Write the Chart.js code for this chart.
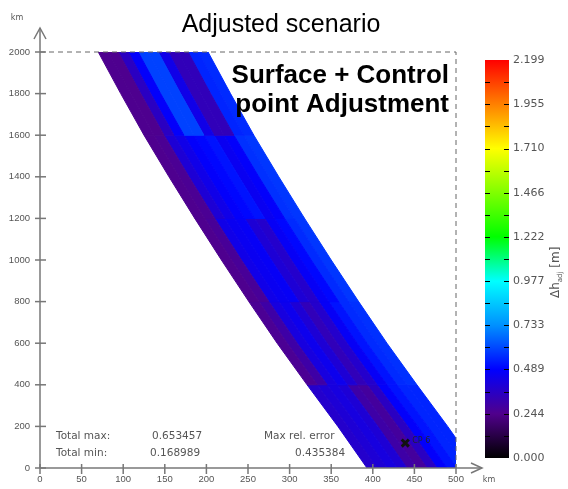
<!DOCTYPE html>
<html lang="en">
<head>
<meta charset="UTF-8">
<title>Adjusted scenario</title>
<script src="https://cdn.jsdelivr.net/npm/chart.js"></script>
<style>
  html, body { margin: 0; padding: 0; background: #fff; }
  #wrap { position: relative; width: 568px; height: 489px; }
  #mainChart { position: absolute; left: 0; top: 0; }
  #barChart { position: absolute; left: 470px; top: 0; }
</style>
</head>
<body>
<div id="wrap">
  <canvas id="mainChart" width="568" height="489"></canvas>
  <canvas id="barChart" width="98" height="489"></canvas>
</div>
<script>
// swath left edge: km north and km east of the edge at each level
const edgeY = [2000, 1800, 1600, 1400, 1200, 1000, 800, 600, 400, 200, 0];
const edgeX = [70, 97, 125, 155, 186, 218, 251, 285, 321, 358, 393];
// cross-track strip borders, measured east from the left edge (km)
const stripOffsets = [0, 12, 24, 36, 48, 60, 72, 84, 96, 108, 120, 132];
// dh_adj per cell [m]; one row per 400 km of track, north to south
const dhRow1 = [0.25, 0.25, 0.36, 0.48, 0.60, 0.60, 0.44, 0.34, 0.34, 0.55, 0.56];
const dhRow2 = [0.25, 0.26, 0.40, 0.44, 0.48, 0.50, 0.52, 0.46, 0.48, 0.57, 0.58];
const dhRow3 = [0.25, 0.27, 0.44, 0.46, 0.47, 0.40, 0.38, 0.47, 0.50, 0.56, 0.58];
const dhRow4 = [0.26, 0.30, 0.42, 0.45, 0.40, 0.34, 0.38, 0.47, 0.52, 0.56, 0.57];
const dhRow5 = [0.38, 0.40, 0.42, 0.40, 0.30, 0.28, 0.36, 0.48, 0.52, 0.55, 0.55];
const dhRows = [dhRow1, dhRow2, dhRow3, dhRow4, dhRow5];

const controlPoint = { x: 439, y: 120 };
const controlLabel = 'CP 6';

const statNames = ['Total max:', 'Total min:', 'Max rel. error'];
const statValues = ['0.653457', '0.168989', '0.435384'];

// colour bar ticks [m] and the colour at each of them
const cbTicks = [0.000, 0.244, 0.489, 0.733, 0.977, 1.222, 1.466, 1.710, 1.955, 2.199];
const cbColors = ['#000000', '#50008c', '#0000ff', '#0090ff', '#00ffff',
                  '#00ff00', '#80ff00', '#ffff00', '#ff8000', '#ff0000'];

Chart.defaults.font.family = '"Liberation Sans", Arial, sans-serif';

function hexRgb(h) {
  return [1, 3, 5].map(i => parseInt(h.slice(i, i + 2), 16));
}

// value -> colour along the colour bar
function dhColor(v) {
  let i = 0;
  while (i < cbTicks.length - 2 && v > cbTicks[i + 1]) i++;
  const t = Math.max(0, Math.min(1, (v - cbTicks[i]) / (cbTicks[i + 1] - cbTicks[i])));
  const a = hexRgb(cbColors[i]), b = hexRgb(cbColors[i + 1]);
  const c = a.map((x, k) => Math.round(x + (b[k] - x) * t));
  return `rgb(${c[0]},${c[1]},${c[2]})`;
}

const cellSets = [];
dhRows.forEach((row, r) => {
  const k = [2 * r, 2 * r + 1, 2 * r + 2];
  row.forEach((v, s) => {
    const o1 = stripOffsets[s], o2 = stripOffsets[s + 1];
    const col = dhColor(v);
    const right = k.map(j => ({ x: edgeX[j] + o2, y: edgeY[j] }));
    const left = k.slice().reverse().map(j => ({ x: edgeX[j] + o1, y: edgeY[j] }));
    cellSets.push({
      data: [{ x: edgeX[k[0]] + o1, y: edgeY[k[0]] }].concat(right, left),
      fill: 'shape',
      backgroundColor: col,
      borderColor: col,
      borderWidth: 1,
      pointRadius: 0,
      tension: 0,
      order: 1
    });
  });
});

function seg(ctx, pts) {
  ctx.beginPath();
  ctx.moveTo(pts[0], pts[1]);
  for (let i = 2; i < pts.length; i += 2) ctx.lineTo(pts[i], pts[i + 1]);
  ctx.stroke();
}

const frame = {
  id: 'frame',
  beforeDatasetsDraw(chart) {
    const { ctx } = chart;
    ctx.save();
    ctx.font = '10.5px "DejaVu Sans", sans-serif';
    ctx.fillStyle = '#555';
    ctx.textBaseline = 'middle';
    ctx.fillText(statNames[0], 56, 436);
    ctx.fillText(statValues[0], 152, 436);
    ctx.fillText(statNames[1], 56, 453);
    ctx.fillText(statValues[1], 150, 453);
    ctx.fillText(statNames[2], 264, 436);
    ctx.fillText(statValues[2], 295, 453);
    ctx.restore();
  },
  afterDraw(chart) {
    const { ctx, chartArea: a } = chart;
    const xs = chart.scales.x, ys = chart.scales.y;
    const x0 = xs.getPixelForValue(0), y0 = ys.getPixelForValue(0);
    ctx.save();
    // dashed frame
    ctx.strokeStyle = '#666';
    ctx.lineWidth = 1;
    ctx.setLineDash([5, 4]);
    seg(ctx, [x0, a.top, a.right, a.top, a.right, y0]);
    ctx.setLineDash([]);
    // axes with arrows
    ctx.strokeStyle = '#777';
    ctx.lineWidth = 1.5;
    seg(ctx, [x0, y0, x0, 28]);
    seg(ctx, [x0 - 6, 39, x0, 28, x0 + 6, 39]);
    seg(ctx, [x0, y0, 482, y0]);
    seg(ctx, [471, y0 - 5, 482, y0, 471, y0 + 5]);
    ys.ticks.forEach(t => { const p = ys.getPixelForValue(t.value); seg(ctx, [x0 - 5, p, x0 + 6, p]); });
    xs.ticks.forEach(t => { const p = xs.getPixelForValue(t.value); seg(ctx, [p, y0 - 4, p, y0 + 6]); });
    // units
    ctx.fillStyle = '#555';
    ctx.font = '8px "DejaVu Sans", sans-serif';
    ctx.textAlign = 'center';
    ctx.textBaseline = 'middle';
    ctx.fillText('km', 17, 18);
    ctx.fillText('km', 489, 480);
    // control point label
    const cx = xs.getPixelForValue(controlPoint.x), cy = ys.getPixelForValue(controlPoint.y);
    ctx.fillStyle = '#223';
    ctx.textAlign = 'left';
    ctx.font = '8px "DejaVu Sans", sans-serif';
    ctx.fillText(controlLabel, cx + 7, cy - 2);
    // titles
    ctx.fillStyle = '#000';
    ctx.font = '25px "Liberation Sans", Arial, sans-serif';
    ctx.textAlign = 'center';
    ctx.textBaseline = 'alphabetic';
    ctx.fillText('Adjusted scenario', 281, 32);
    ctx.font = 'bold 26px "Liberation Sans", Arial, sans-serif';
    ctx.textAlign = 'right';
    ctx.fillText('Surface + Control', 449, 83);
    ctx.fillText('point Adjustment', 449, 112);
    ctx.restore();
  }
};

new Chart(document.getElementById('mainChart'), {
  type: 'line',
  data: {
    datasets: [{
      data: [controlPoint],
      showLine: false,
      fill: false,
      order: 0,
      pointStyle: 'crossRot',
      pointRadius: 5,
      pointBorderWidth: 3,
      pointBorderColor: '#111',
      pointBackgroundColor: '#111',
      borderColor: '#111',
      backgroundColor: '#111'
    }].concat(cellSets)
  },
  options: {
    responsive: false,
    animation: false,
    events: [],
    layout: { padding: { top: 52, right: 112, left: 0, bottom: 0 } },
    plugins: { legend: { display: false }, tooltip: { enabled: false } },
    scales: {
      x: {
        type: 'linear', min: 0, max: 500,
        afterFit: s => { s.height = 21; },
        grid: { display: false, drawTicks: false },
        border: { display: false },
        ticks: { stepSize: 50, padding: 6, color: '#555', font: { size: 9.5 }, maxRotation: 0, callback: v => String(v) }
      },
      y: {
        type: 'linear', min: 0, max: 2000,
        afterFit: s => { s.width = 40; },
        grid: { display: false, drawTicks: false },
        border: { display: false },
        ticks: { stepSize: 200, padding: 10, color: '#555', font: { size: 9.5 }, callback: v => String(v) }
      }
    }
  },
  plugins: [frame]
});

// colour bar
const cbMinor = [];
cbTicks.forEach((v, i) => { if (i) cbMinor.push((v + cbTicks[i - 1]) / 2); cbMinor.push(v); });

const barMarks = {
  id: 'barMarks',
  afterDraw(chart) {
    const { ctx, chartArea: a } = chart;
    const ys = chart.scales.y;
    ctx.save();
    ctx.strokeStyle = '#000';
    ctx.lineWidth = 1;
    cbMinor.forEach((v, i) => {
      if (i === 0 || i === cbMinor.length - 1) return;
      const p = Math.round(ys.getPixelForValue(v)) + 0.5;
      seg(ctx, [a.left, p, a.left + 5, p]);
      seg(ctx, [a.right - 5, p, a.right, p]);
    });
    // rotated axis label: dh_adj [m]
    ctx.translate(86, 265);
    ctx.rotate(-Math.PI / 2);
    ctx.fillStyle = '#555';
    ctx.textBaseline = 'middle';
    ctx.textAlign = 'left';
    ctx.font = '12px "DejaVu Sans", sans-serif';
    const w1 = ctx.measureText('\u0394h').width;
    ctx.fillText('\u0394h', -33, 0);
    ctx.font = '7px "DejaVu Sans", sans-serif';
    const w2 = ctx.measureText('adj').width;
    ctx.fillText('adj', -33 + w1, 4);
    ctx.font = '12px "DejaVu Sans", sans-serif';
    ctx.fillText(' [m]', -33 + w1 + w2, 0);
    ctx.restore();
  }
};

new Chart(document.getElementById('barChart'), {
  type: 'bar',
  data: {
    labels: ['dh'],
    datasets: [{
      data: [[cbTicks[0], cbTicks[cbTicks.length - 1]]],
      barPercentage: 1,
      categoryPercentage: 1,
      borderWidth: 0,
      backgroundColor: c => {
        const { ctx, chartArea } = c.chart;
        if (!chartArea) return cbColors[0];
        const g = ctx.createLinearGradient(0, chartArea.bottom, 0, chartArea.top);
        const top = cbTicks[cbTicks.length - 1];
        cbTicks.forEach((v, i) => g.addColorStop(v / top, cbColors[i]));
        return g;
      }
    }]
  },
  options: {
    responsive: false,
    animation: false,
    events: [],
    layout: { padding: { top: 60, bottom: 31, left: 15, right: 0 } },
    plugins: { legend: { display: false }, tooltip: { enabled: false } },
    scales: {
      x: { display: false },
      y: {
        position: 'right',
        min: cbTicks[0], max: cbTicks[cbTicks.length - 1],
        afterFit: s => { s.width = 59; },
        afterBuildTicks: s => { s.ticks = cbTicks.map(v => ({ value: v })); },
        grid: { display: false, drawTicks: false },
        border: { display: false },
        ticks: {
          padding: 4, color: '#555',
          font: { size: 11, family: '"DejaVu Sans", sans-serif' },
          callback: v => v.toFixed(3)
        }
      }
    }
  },
  plugins: [barMarks]
});
</script>
</body>
</html>
